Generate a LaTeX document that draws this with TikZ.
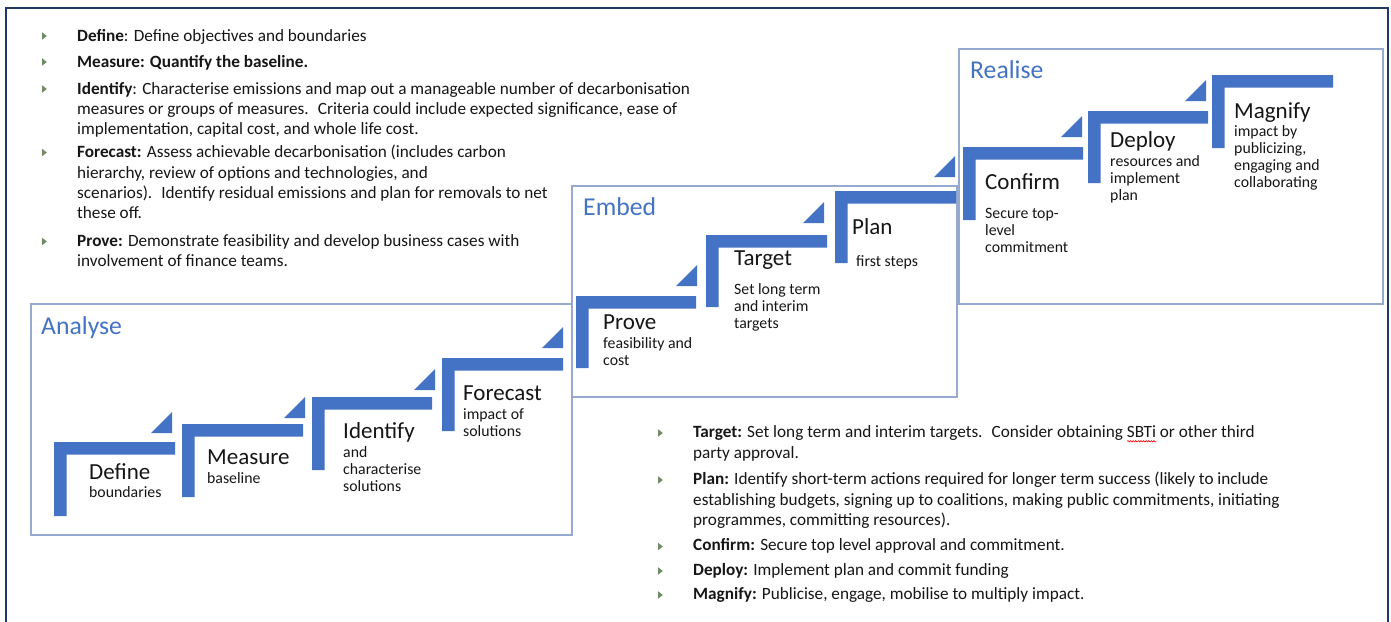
\documentclass[tikz,border=0pt]{standalone}
\usepackage{fontspec}
\setmainfont{Carlito}
\usetikzlibrary{decorations.pathmorphing}
\definecolor{stepblue}{RGB}{68,114,196}
\definecolor{framegray}{RGB}{150,170,208}
\definecolor{outernavy}{RGB}{31,56,100}
\definecolor{textdark}{RGB}{22,22,22}
\definecolor{bulletgreen}{RGB}{112,140,100}
\newlength\swlen
\newcommand\spellwave[1]{\settowidth\swlen{#1}\rlap{\tikz[x=1pt,y=1pt,baseline=0pt]\draw[red,line width=0.6pt,decorate,decoration={snake,amplitude=0.7pt,segment length=2.6pt}] (0,-3.6) -- (\swlen,-3.6);}#1}
\newcommand\stairstep[4]{%
  \fill[stepblue] (#1,#2) -- ++(#3,0) -- ++(0,12.5) -- ++({12.5-#3},0) -- ++(0,{#4-12.5}) -- ++(-12.5,0) -- cycle;}
\newcommand\stairtri[2]{\fill[stepblue] ({#1-21},#2) -- (#1,#2) -- (#1,{#2-21}) -- cycle;}
\newcommand\bulletmark[2]{\fill[bulletgreen] (#1,{#2-3.8}) -- ({#1+4.8},#2) -- (#1,{#2+3.8}) -- cycle;}
\tikzset{
  outerframe/.style={draw=outernavy, line width=2.4pt},
  boxframe/.style={draw=framegray, line width=1.6pt},
  boxlbl/.style={anchor=base west, inner sep=0pt, text=stepblue, font=\fontsize{25.7}{29}\selectfont},
  ttl/.style={anchor=base west, inner sep=0pt, text=textdark, font=\fontsize{23}{26}\selectfont},
  subtxt/.style={anchor=north west, inner sep=0pt, align=left, text=textdark, font=\fontsize{15.8}{17.2}\selectfont, yshift=12.04pt},
  paratop/.style={anchor=north west, inner sep=0pt, align=left, text=textdark, font=\fontsize{17.2}{20.3}\selectfont, yshift=14.21pt},
  parabot/.style={anchor=north west, inner sep=0pt, align=left, text=textdark, font=\fontsize{17.2}{20.8}\selectfont, yshift=14.56pt}
}
\begin{document}
\begin{tikzpicture}[x=1pt,y=-1pt]
\useasboundingbox[fill=white] (0,0) rectangle (1391,621);
% outer frame
\draw[outerframe] (6,630) -- (6,8) -- (1388,8) -- (1388,630);
% group boxes
\draw[boxframe] (31,304) rectangle (572,535);
\draw[boxframe] (572,186) rectangle (957,397);
\draw[boxframe] (959,49) rectangle (1383,304);
\node[boxlbl] (lAnalyse) at (41,334) {Analyse};
\node[boxlbl] (lEmbed) at (583,215.5) {Embed};
\node[boxlbl] (lRealise) at (970,78.5) {Realise};
% steps
\stairstep{54}{442}{121}{74}   \stairtri{172}{433}
\stairstep{182}{424}{121}{73}  \stairtri{305}{418}
\stairstep{312}{397}{120}{73}  \stairtri{435}{390}
\stairstep{442}{358}{121}{73}  \stairtri{563}{348}
\stairstep{576}{296}{120}{72}  \stairtri{697}{286}
\stairstep{706}{235}{121}{72}  \stairtri{824}{223}
\stairstep{835}{191}{121}{72}  \stairtri{955}{177}
\stairstep{963}{147}{120}{73}  \stairtri{1082}{137}
\stairstep{1088}{111}{120}{72} \stairtri{1206}{101}
\stairstep{1212}{75}{121}{73}
% step texts
\node[ttl] (sDefine) at (89,479) {Define};
\node[subtxt] (dDefine) at (89,497) {\strut boundaries};
\node[ttl] (sMeasure) at (207,464) {Measure};
\node[subtxt] (dMeasure) at (207,483) {\strut baseline};
\node[ttl] (sIdentify) at (343,438) {Identify};
\node[subtxt] (dIdentify) at (343,457) {\strut and\\characterise\\solutions};
\node[ttl] (sForecast) at (463,400) {Forecast};
\node[subtxt] (dForecast) at (463,419) {\strut impact of\\solutions};
\node[ttl] (sProve) at (603,329) {Prove};
\node[subtxt] (dProve) at (603,348) {\strut feasibility and\\cost};
\node[ttl] (sTarget) at (734,265) {Target};
\node[subtxt] (dTarget) at (734,294) {\strut Set long term\\and interim\\targets};
\node[ttl] (sPlan) at (852,234) {Plan};
\node[subtxt] (dPlan) at (856,266) {\strut first steps};
\node[ttl] (sConfirm) at (985,189) {Confirm};
\node[subtxt] (dConfirm) at (985,218) {\strut Secure top-\\level\\commitment};
\node[ttl] (sDeploy) at (1110,147) {Deploy};
\node[subtxt] (dDeploy) at (1110,166) {\strut resources and\\implement\\plan};
\node[ttl] (sMagnify) at (1234,118) {Magnify};
\node[subtxt] (dMagnify) at (1234,136) {\strut impact by\\publicizing,\\engaging and\\collaborating};
% top-left bullet list
\bulletmark{42}{36}
\bulletmark{42}{62}
\bulletmark{42}{89}
\bulletmark{42}{152.5}
\bulletmark{42}{241.5}
\node[paratop] (bDefine) at (77,41) {\strut\textbf{Define}: Define objectives and boundaries};
\node[paratop] (bMeasure) at (77,67) {\strut\textbf{Measure: Quantify the baseline.}};
\node[paratop] (bIdentify) at (77,94) {\strut\textbf{Identify}: Characterise emissions and map out a manageable number of decarbonisation\\measures or groups of measures.~ Criteria could include expected significance, ease of\\implementation, capital cost, and whole life cost.};
\node[paratop] (bForecast) at (77,157.5) {\strut\textbf{Forecast:} Assess achievable decarbonisation (includes carbon\\hierarchy, review of options and technologies, and\\scenarios).~ Identify residual emissions and plan for removals to net\\these off.};
\node[paratop] (bProve) at (77,246) {\strut\textbf{Prove:} Demonstrate feasibility and develop business cases with\\involvement of finance teams.};
% bottom-right bullet list
\bulletmark{658}{433}
\bulletmark{658}{480}
\bulletmark{658}{546.5}
\bulletmark{658}{571}
\bulletmark{658}{595}
\node[parabot] (bTarget) at (693,437.5) {\strut\textbf{Target:} Set long term and interim targets.~ Consider obtaining \spellwave{SBTi} or other third\\party approval.};
\node[parabot] (bPlan) at (693,484) {\strut\textbf{Plan:} Identify short-term actions required for longer term success (likely to include\\establishing budgets, signing up to coalitions, making public commitments, initiating\\programmes, committing resources).};
\node[parabot] (bConfirm) at (693,550.5) {\strut\textbf{Confirm:} Secure top level approval and commitment.};
\node[parabot] (bDeploy) at (693,575) {\strut\textbf{Deploy:} Implement plan and commit funding};
\node[parabot] (bMagnify) at (693,599) {\strut\textbf{Magnify:} Publicise, engage, mobilise to multiply impact.};
\end{tikzpicture}
\end{document}
